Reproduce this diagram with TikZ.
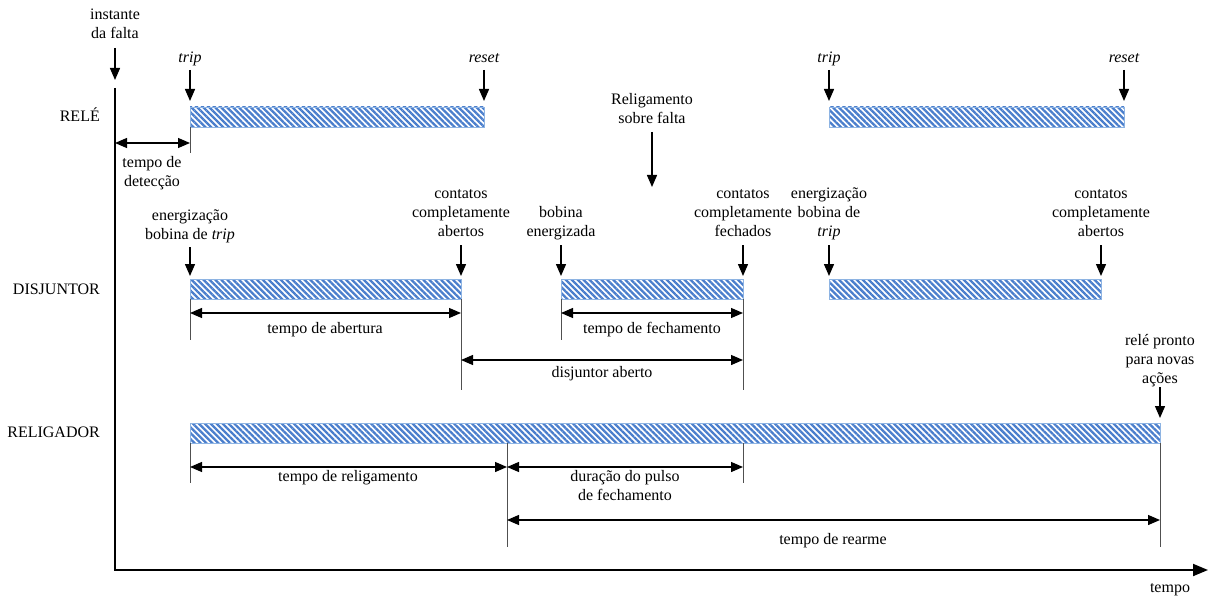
\documentclass[tikz,border=0pt]{standalone}
\usepackage{fontspec}
\setmainfont{Liberation Serif}
\usetikzlibrary{arrows.meta,patterns.meta}
\definecolor{stripe}{RGB}{74,126,204}
\definecolor{barrim}{RGB}{142,180,227}
\definecolor{tickgray}{RGB}{80,80,80}
\begin{document}
\begin{tikzpicture}[x=1pt,y=-1pt,
  font=\fontsize{16}{19}\selectfont,
  lbl/.style={align=center, inner sep=0pt, text depth=0pt, anchor=south},
  rowlbl/.style={anchor=base east, inner sep=0pt},
  bar/.style={draw=barrim, line width=0.8pt,
    pattern={Lines[angle=-45,distance=4.2pt,line width=2.3pt]}, pattern color=stripe,
    anchor=north west, minimum height=20pt, inner sep=0pt, outer sep=0pt},
  dn/.style={-{Triangle[length=12pt,width=10pt]}, line width=1.4pt, shorten <=8pt, shorten >=4pt},
  dim/.style={{Triangle[length=12pt,width=10pt]}-{Triangle[length=12pt,width=10pt]}, line width=1.3pt},
  tk/.style={line width=0.8pt, draw=tickgray},
  axis/.style={line width=1.9pt, -{Triangle[length=15pt,width=12pt]}}]
\useasboundingbox (0,0) rectangle (1208,599);

% time bars
\node[bar, minimum width=294pt] (r1) at (190,107) {};
\node[bar, minimum width=295pt] (r2) at (829,107) {};
\node[bar, minimum width=271pt] (d1) at (190,279) {};
\node[bar, minimum width=182pt] (d2) at (561,279) {};
\node[bar, minimum width=272pt] (d3) at (829,279) {};
\node[bar, minimum width=970pt] (g1) at (190,423) {};

% axes
\coordinate (ytop) at (115,88);
\coordinate (orig) at (115,570);
\coordinate (xend) at (1208,570);
\draw[axis] (ytop) -- (orig) -- (xend);
\node[anchor=base, inner sep=0pt] (tempo) at (1170,592) {tempo};

% row names
\node[rowlbl] (rowRele) at (100,122) {RELÉ};
\node[rowlbl] (rowDisj) at (100,294) {DISJUNTOR};
\node[rowlbl] (rowRelig) at (100,437) {RELIGADOR};

% event markers
\node[lbl] (inst) at (115,39) {instante\\da falta};
\draw[dn, shorten <=9pt, shorten >=8pt] (inst.south) -- (ytop);

\node[lbl] (trip1) at (190,63) {\itshape trip};
\node[lbl] (reset1) at (484,63) {\itshape reset};
\node[lbl] (trip2) at (829,63) {\itshape trip};
\node[lbl] (reset2) at (1124,63) {\itshape reset};
\draw[dn, shorten <=7pt, shorten >=6pt] (trip1.south) -- (r1.north west);
\draw[dn, shorten <=7pt, shorten >=6pt] (reset1.south) -- (r1.north east);
\draw[dn, shorten <=7pt, shorten >=6pt] (trip2.south) -- (r2.north west);
\draw[dn, shorten <=7pt, shorten >=6pt] (reset2.south) -- (r2.north east);

\node[lbl] (rsf) at (652,124) {Religamento\\sobre falta};
\coordinate (rsfend) at (652,187);
\draw[dn, shorten >=0pt] (rsf.south) -- (rsfend);

\node[lbl] (en1) at (190,240) {energização\\bobina de \textit{trip}};
\node[lbl] (ca1) at (461,237) {contatos\\completamente\\abertos};
\node[lbl] (be) at (561,237) {bobina\\energizada};
\node[lbl] (cf) at (743,237) {contatos\\completamente\\fechados};
\node[lbl] (en2) at (829,237) {energização\\bobina de\\\textit{trip}};
\node[lbl] (ca2) at (1101,237) {contatos\\completamente\\abertos};
\draw[dn, shorten <=7pt, shorten >=3pt] (en1.south) -- (d1.north west);
\draw[dn, shorten >=3pt] (ca1.south) -- (d1.north east);
\draw[dn, shorten >=3pt] (be.south) -- (d2.north west);
\draw[dn, shorten >=3pt] (cf.south) -- (d2.north east);
\draw[dn, shorten >=3pt] (en2.south) -- (d3.north west);
\draw[dn, shorten >=3pt] (ca2.south) -- (d3.north east);

\node[lbl] (pronto) at (1160,384) {relé pronto\\para novas\\ações};
\draw[dn, shorten <=3pt, shorten >=5pt] (pronto.south) -- (g1.north east);

% extension lines
\coordinate (t1) at (190,153);
\coordinate (t2) at (190,340);
\coordinate (t3) at (461,390);
\coordinate (t4) at (561,340);
\coordinate (t5) at (743,390);
\coordinate (t6) at (190,483);
\coordinate (t7a) at (507,443);
\coordinate (t7) at (507,547);
\coordinate (t8a) at (743,443);
\coordinate (t8) at (743,483);
\coordinate (t9) at (1160,547);
\draw[tk] (r1.south west) -- (t1);
\draw[tk] (d1.south west) -- (t2);
\draw[tk] (d1.south east) -- (t3);
\draw[tk] (d2.south west) -- (t4);
\draw[tk] (d2.south east) -- (t5);
\draw[tk] (g1.south west) -- (t6);
\draw[tk] (t7a) -- (t7);
\draw[tk] (t8a) -- (t8);
\draw[tk] (g1.south east) -- (t9);

% interval arrows
\coordinate (detL) at (115,143);
\coordinate (detR) at (190,143);
\draw[dim] (detL) -- (detR);
\node[lbl] (lDet) at (152,187) {tempo de\\detecção};

\coordinate (abL) at (190,313);
\coordinate (abR) at (461,313);
\draw[dim] (abL) -- (abR);
\node[lbl] (lAb) at (325,334) {tempo de abertura};

\coordinate (feL) at (561,313);
\coordinate (feR) at (743,313);
\draw[dim] (feL) -- (feR);
\node[lbl] (lFe) at (652,334) {tempo de fechamento};

\coordinate (daL) at (461,360);
\coordinate (daR) at (743,360);
\draw[dim] (daL) -- (daR);
\node[lbl] (lDA) at (602,378) {disjuntor aberto};

\coordinate (reL) at (190,467);
\coordinate (reM) at (507,467);
\coordinate (reR) at (743,467);
\draw[dim] (reL) -- (reM);
\draw[dim] (reM) -- (reR);
\node[lbl] (lRel) at (348,482) {tempo de religamento};
\node[lbl] (lPul) at (625,501) {duração do pulso\\de fechamento};

\coordinate (raL) at (507,520);
\coordinate (raR) at (1160,520);
\draw[dim] (raL) -- (raR);
\node[lbl] (lRea) at (833,545) {tempo de rearme};
\end{tikzpicture}
\end{document}
